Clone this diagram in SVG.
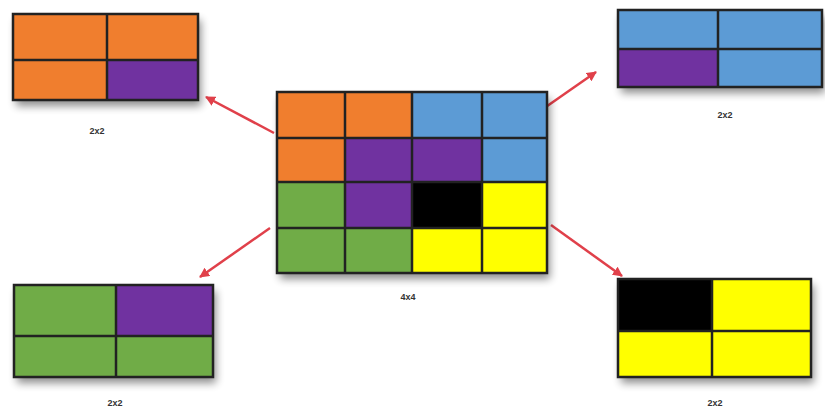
<svg xmlns="http://www.w3.org/2000/svg" width="825" height="417" viewBox="0 0 825 417">
<style>
.o{fill:#f07e2e}.p{fill:#7030a0}.b{fill:#5b9bd5}.g{fill:#6fac46}.y{fill:#ffff00}.k{fill:#000}
.ln{stroke:#222;stroke-width:2.5;fill:none}
.lbl{font-family:"Liberation Sans",Arial,sans-serif;font-size:9px;font-weight:bold;fill:#333;text-anchor:middle}
.arr{stroke:#e0404a;stroke-width:2.5;fill:none;marker-end:url(#ah)}
</style>
<defs>
<filter id="sh" x="-10%" y="-10%" width="125%" height="135%">
<feGaussianBlur in="SourceAlpha" stdDeviation="4"/>
<feOffset dx="3" dy="6"/>
<feComponentTransfer><feFuncA type="linear" slope="0.45"/></feComponentTransfer>
<feMerge><feMergeNode/><feMergeNode in="SourceGraphic"/></feMerge>
</filter>
<marker id="ah" viewBox="0 0 10 10" refX="9" refY="5" markerWidth="4" markerHeight="4" orient="auto">
<path d="M0,0 L10,5 L0,10 z" fill="#e0404a"/>
</marker>
</defs>
<rect width="825" height="417" fill="#fff"/>
<g id="connectors">
<line class="arr" x1="274" y1="133" x2="206" y2="97"/>
<line class="arr" x1="530" y1="118" x2="596" y2="72"/>
<line class="arr" x1="270" y1="228" x2="200" y2="277"/>
<line class="arr" x1="551" y1="225" x2="622" y2="276"/>
</g>
<g id="top-left">
<g filter="url(#sh)">
<rect class="o" x="13" y="14" width="94" height="46"/>
<rect class="o" x="107" y="14" width="91" height="46"/>
<rect class="o" x="13" y="60" width="94" height="40"/>
<rect class="p" x="107" y="60" width="91" height="40"/>
</g>
<rect class="ln" x="13" y="14" width="185" height="86" stroke="#6b3a10"/>
<path class="ln" d="M107,14V100M13,60H198" stroke="#6b3a10"/>
<text class="lbl" x="97" y="134">2x2</text>
</g>
<g id="center">
<g filter="url(#sh)">
<rect class="o" x="277" y="92" width="68" height="46"/>
<rect class="o" x="345" y="92" width="67" height="46"/>
<rect class="b" x="412" y="92" width="70" height="46"/>
<rect class="b" x="482" y="92" width="65" height="46"/>
<rect class="o" x="277" y="138" width="68" height="44"/>
<rect class="p" x="345" y="138" width="67" height="44"/>
<rect class="p" x="412" y="138" width="70" height="44"/>
<rect class="b" x="482" y="138" width="65" height="44"/>
<rect class="g" x="277" y="182" width="68" height="46"/>
<rect class="p" x="345" y="182" width="67" height="46"/>
<rect class="k" x="412" y="182" width="70" height="46"/>
<rect class="y" x="482" y="182" width="65" height="46"/>
<rect class="g" x="277" y="228" width="68" height="45"/>
<rect class="g" x="345" y="228" width="67" height="45"/>
<rect class="y" x="412" y="228" width="70" height="45"/>
<rect class="y" x="482" y="228" width="65" height="45"/>
</g>
<rect class="ln" x="277" y="92" width="270" height="181"/>
<path class="ln" d="M345,92V273M412,92V273M482,92V273M277,138H547M277,182H547M277,228H547"/>
<text class="lbl" x="408" y="300">4x4</text>
</g>
<g id="top-right">
<g filter="url(#sh)">
<rect class="b" x="618" y="10" width="100" height="39"/>
<rect class="b" x="718" y="10" width="104" height="39"/>
<rect class="p" x="618" y="49" width="100" height="38"/>
<rect class="b" x="718" y="49" width="104" height="38"/>
</g>
<rect class="ln" x="618" y="10" width="204" height="77" stroke="#1f3a66"/>
<path class="ln" d="M718,10V87M618,49H822" stroke="#1f3a66"/>
<text class="lbl" x="725" y="118">2x2</text>
</g>
<g id="bottom-left">
<g filter="url(#sh)">
<rect class="g" x="14" y="285" width="102" height="51"/>
<rect class="p" x="116" y="285" width="97" height="51"/>
<rect class="g" x="14" y="336" width="102" height="41"/>
<rect class="g" x="116" y="336" width="97" height="41"/>
</g>
<rect class="ln" x="14" y="285" width="199" height="92" stroke="#1e3a12"/>
<path class="ln" d="M116,285V377M14,336H213" stroke="#1e3a12"/>
<text class="lbl" x="115" y="406">2x2</text>
</g>
<g id="bottom-right">
<g filter="url(#sh)">
<rect class="k" x="618" y="279" width="94" height="52"/>
<rect class="y" x="712" y="279" width="99" height="52"/>
<rect class="y" x="618" y="331" width="94" height="46"/>
<rect class="y" x="712" y="331" width="99" height="46"/>
</g>
<rect class="ln" x="618" y="279" width="193" height="98" stroke="#4a4400"/>
<path class="ln" d="M712,279V377M618,331H811" stroke="#4a4400"/>
<text class="lbl" x="715" y="406">2x2</text>
</g>
</svg>
